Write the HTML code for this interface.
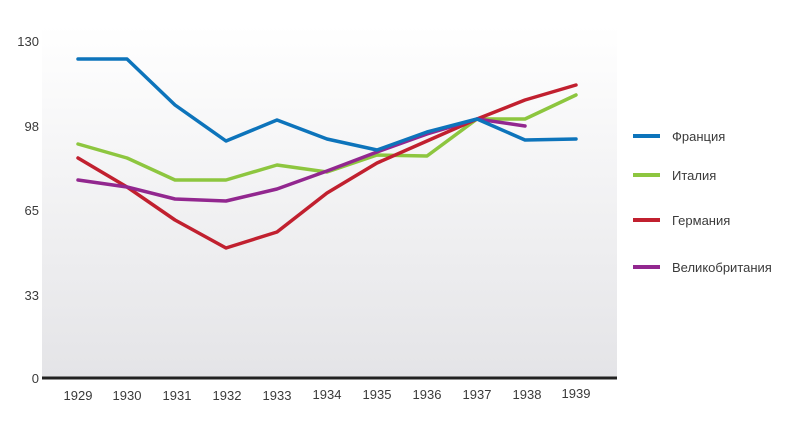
<!DOCTYPE html>
<html><head><meta charset="utf-8"><style>
body{margin:0;background:#fff;}
svg text{font-family:"Liberation Sans",sans-serif;font-size:13px;fill:#3a3a3a;}
</style></head><body>
<svg width="804" height="420" viewBox="0 0 804 420" xmlns="http://www.w3.org/2000/svg">
<defs><linearGradient id="g" x1="0" y1="0" x2="0" y2="1">
<stop offset="0" stop-color="#ffffff"/><stop offset="1" stop-color="#e4e4e7"/></linearGradient></defs>
<rect x="42" y="25" width="575" height="353" fill="url(#g)"/>
<line x1="42" y1="378" x2="617" y2="378" stroke="#222" stroke-width="3"/>
<g text-anchor="end">
<text x="39" y="46">130</text><text x="39" y="131">98</text><text x="39" y="215">65</text><text x="39" y="300">33</text><text x="39" y="383">0</text>
</g>
<g text-anchor="middle">
<text x="78" y="400">1929</text><text x="127" y="400">1930</text><text x="177" y="400">1931</text><text x="227" y="400">1932</text><text x="277" y="400">1933</text><text x="327" y="399">1934</text><text x="377" y="399">1935</text><text x="427" y="399">1936</text><text x="477" y="399">1937</text><text x="527" y="399">1938</text><text x="576" y="398">1939</text>
</g>
<g fill="none" stroke-width="3.5" stroke-linejoin="round" stroke-linecap="round">
<polyline stroke="#8dc63f" points="78,144 127,158 175,180 226,180 277,165 327,172 377,155 427,156 477,119 525,119 576,95"/>
<polyline stroke="#c1202f" points="78,158 127,187 175,220 226,248 277,232 327,193 377,163 427,141 477,119 525,100 576,85"/>
<polyline stroke="#92278f" points="78,180 127,187 175,199 226,201 277,189 327,171 377,152 427,134 477,119 525,126"/>
<polyline stroke="#0d74bb" points="78,59 127,59 175,105 226,141 277,120 327,139 377,150 427,132 477,119 525,140 576,139"/>
</g>
<g stroke-width="4">
<line x1="633" y1="136" x2="660" y2="136" stroke="#0d74bb"/>
<line x1="633" y1="175" x2="660" y2="175" stroke="#8dc63f"/>
<line x1="633" y1="220" x2="660" y2="220" stroke="#c1202f"/>
<line x1="633" y1="267" x2="660" y2="267" stroke="#92278f"/>
</g>
<text x="672" y="141">Франция</text>
<text x="672" y="180">Италия</text>
<text x="672" y="225">Германия</text>
<text x="672" y="272">Великобритания</text>
</svg>
</body></html>
